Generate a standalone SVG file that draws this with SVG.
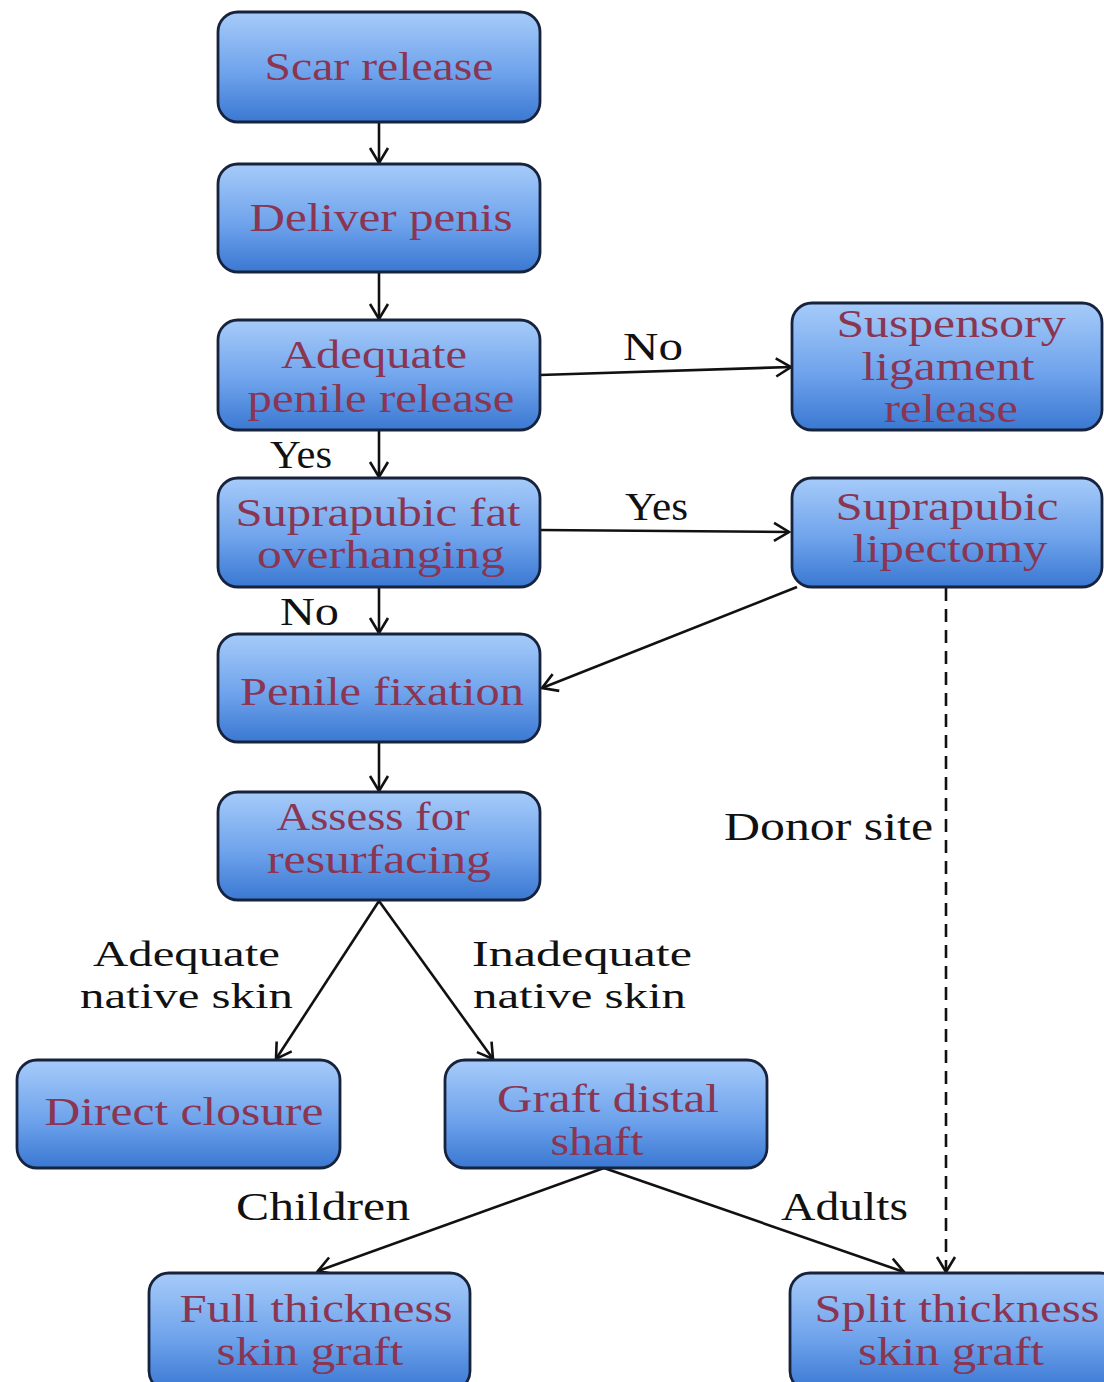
<svg xmlns="http://www.w3.org/2000/svg" width="1104" height="1382" viewBox="0 0 1104 1382">
<defs>
<linearGradient id="g" x1="0" y1="0" x2="0" y2="1">
<stop offset="0" stop-color="#a6cbf9"/>
<stop offset="0.55" stop-color="#6fa3ec"/>
<stop offset="1" stop-color="#3a78d2"/>
</linearGradient>
<marker id="a" markerWidth="20" markerHeight="22" refX="17" refY="11" orient="auto" markerUnits="userSpaceOnUse">
<polyline points="2,2 17,11 2,20" fill="none" stroke="#111" stroke-width="2.6"/>
</marker>
<style>
.box{fill:url(#g);stroke:#17233d;stroke-width:2.8}
.nt{font-family:"Liberation Serif","Times New Roman",serif;font-size:41px;fill:#8a3552;text-anchor:middle}
.lb{font-family:"Liberation Serif","Times New Roman",serif;font-size:41px;fill:#111}
.lb2{font-family:"Liberation Serif","Times New Roman",serif;font-size:36px;fill:#111}
.c{fill:none;stroke:#111;stroke-width:2.6;marker-end:url(#a)}
.d{fill:none;stroke:#111;stroke-width:2.6;stroke-dasharray:13,8;marker-end:url(#a)}
</style>
</defs>
<rect width="1104" height="1382" fill="#fff"/>
<g id="connectors">
<line class="c" x1="379" y1="122" x2="379" y2="163"/>
<line class="c" x1="379" y1="272" x2="379" y2="319"/>
<line class="c" x1="540" y1="375" x2="791" y2="367"/>
<line class="c" x1="379" y1="430" x2="379" y2="477"/>
<line class="c" x1="540" y1="530" x2="789" y2="532"/>
<line class="c" x1="379" y1="587" x2="379" y2="633"/>
<line class="c" x1="797" y1="587" x2="542" y2="688"/>
<line class="c" x1="379" y1="742" x2="379" y2="791"/>
<line class="c" x1="379" y1="901" x2="276" y2="1059"/>
<line class="c" x1="379" y1="901" x2="493" y2="1059"/>
<line class="c" x1="604" y1="1168" x2="318" y2="1271"/>
<line class="c" x1="604" y1="1168" x2="904" y2="1272"/>
<line class="d" x1="946" y1="588" x2="946" y2="1272"/>
<text class="lb" x="623" y="360" textLength="60" lengthAdjust="spacingAndGlyphs">No</text>
<text class="lb" x="270" y="468" textLength="62" lengthAdjust="spacingAndGlyphs">Yes</text>
<text class="lb" x="625" y="520" textLength="63" lengthAdjust="spacingAndGlyphs">Yes</text>
<text class="lb" x="280" y="625" textLength="59" lengthAdjust="spacingAndGlyphs">No</text>
<text class="lb" x="724" y="840" textLength="209" lengthAdjust="spacingAndGlyphs">Donor site</text>
<text class="lb2" x="93" y="966" textLength="187" lengthAdjust="spacingAndGlyphs">Adequate</text>
<text class="lb2" x="80" y="1008" textLength="213" lengthAdjust="spacingAndGlyphs">native skin</text>
<text class="lb2" x="472" y="966" textLength="220" lengthAdjust="spacingAndGlyphs">Inadequate</text>
<text class="lb2" x="473" y="1008" textLength="213" lengthAdjust="spacingAndGlyphs">native skin</text>
<text class="lb" x="236" y="1220" textLength="174" lengthAdjust="spacingAndGlyphs">Children</text>
<text class="lb" x="781" y="1220" textLength="127" lengthAdjust="spacingAndGlyphs">Adults</text>
</g>
<g id="scar-release">
<rect class="box" x="218" y="12" width="322" height="110" rx="20"/>
<text class="nt" x="379" y="80" textLength="229" lengthAdjust="spacingAndGlyphs">Scar release</text>
</g>
<g id="deliver-penis">
<rect class="box" x="218" y="164" width="322" height="108" rx="20"/>
<text class="nt" x="381" y="231" textLength="263" lengthAdjust="spacingAndGlyphs">Deliver penis</text>
</g>
<g id="adequate-penile-release">
<rect class="box" x="218" y="320" width="322" height="110" rx="20"/>
<text class="nt" x="374" y="368" textLength="186" lengthAdjust="spacingAndGlyphs">Adequate</text>
<text class="nt" x="381" y="412" textLength="267" lengthAdjust="spacingAndGlyphs">penile release</text>
</g>
<g id="suspensory-ligament-release">
<rect class="box" x="792" y="303" width="310" height="127" rx="20"/>
<text class="nt" x="951" y="337" textLength="229" lengthAdjust="spacingAndGlyphs">Suspensory</text>
<text class="nt" x="948" y="380" textLength="173" lengthAdjust="spacingAndGlyphs">ligament</text>
<text class="nt" x="951" y="422" textLength="134" lengthAdjust="spacingAndGlyphs">release</text>
</g>
<g id="suprapubic-fat-overhanging">
<rect class="box" x="218" y="478" width="322" height="109" rx="20"/>
<text class="nt" x="378" y="526" textLength="285" lengthAdjust="spacingAndGlyphs">Suprapubic fat</text>
<text class="nt" x="381" y="568" textLength="248" lengthAdjust="spacingAndGlyphs">overhanging</text>
</g>
<g id="suprapubic-lipectomy">
<rect class="box" x="792" y="478" width="310" height="109" rx="20"/>
<text class="nt" x="947" y="520" textLength="223" lengthAdjust="spacingAndGlyphs">Suprapubic</text>
<text class="nt" x="950" y="562" textLength="195" lengthAdjust="spacingAndGlyphs">lipectomy</text>
</g>
<g id="penile-fixation">
<rect class="box" x="218" y="634" width="322" height="108" rx="20"/>
<text class="nt" x="382" y="705" textLength="284" lengthAdjust="spacingAndGlyphs">Penile fixation</text>
</g>
<g id="assess-for-resurfacing">
<rect class="box" x="218" y="792" width="322" height="108" rx="20"/>
<text class="nt" x="373" y="830" textLength="193" lengthAdjust="spacingAndGlyphs">Assess for</text>
<text class="nt" x="379" y="873" textLength="224" lengthAdjust="spacingAndGlyphs">resurfacing</text>
</g>
<g id="direct-closure">
<rect class="box" x="17" y="1060" width="323" height="108" rx="20"/>
<text class="nt" x="184" y="1125" textLength="279" lengthAdjust="spacingAndGlyphs">Direct closure</text>
</g>
<g id="graft-distal-shaft">
<rect class="box" x="445" y="1060" width="322" height="108" rx="20"/>
<text class="nt" x="608" y="1112" textLength="222" lengthAdjust="spacingAndGlyphs">Graft distal</text>
<text class="nt" x="597" y="1155" textLength="93" lengthAdjust="spacingAndGlyphs">shaft</text>
</g>
<g id="full-thickness-skin-graft">
<rect class="box" x="149" y="1273" width="321" height="118" rx="20"/>
<text class="nt" x="316" y="1322" textLength="273" lengthAdjust="spacingAndGlyphs">Full thickness</text>
<text class="nt" x="310" y="1365" textLength="187" lengthAdjust="spacingAndGlyphs">skin graft</text>
</g>
<g id="split-thickness-skin-graft">
<rect class="box" x="790" y="1273" width="330" height="118" rx="20"/>
<text class="nt" x="957" y="1322" textLength="285" lengthAdjust="spacingAndGlyphs">Split thickness</text>
<text class="nt" x="951" y="1365" textLength="186" lengthAdjust="spacingAndGlyphs">skin graft</text>
</g>
</svg>
